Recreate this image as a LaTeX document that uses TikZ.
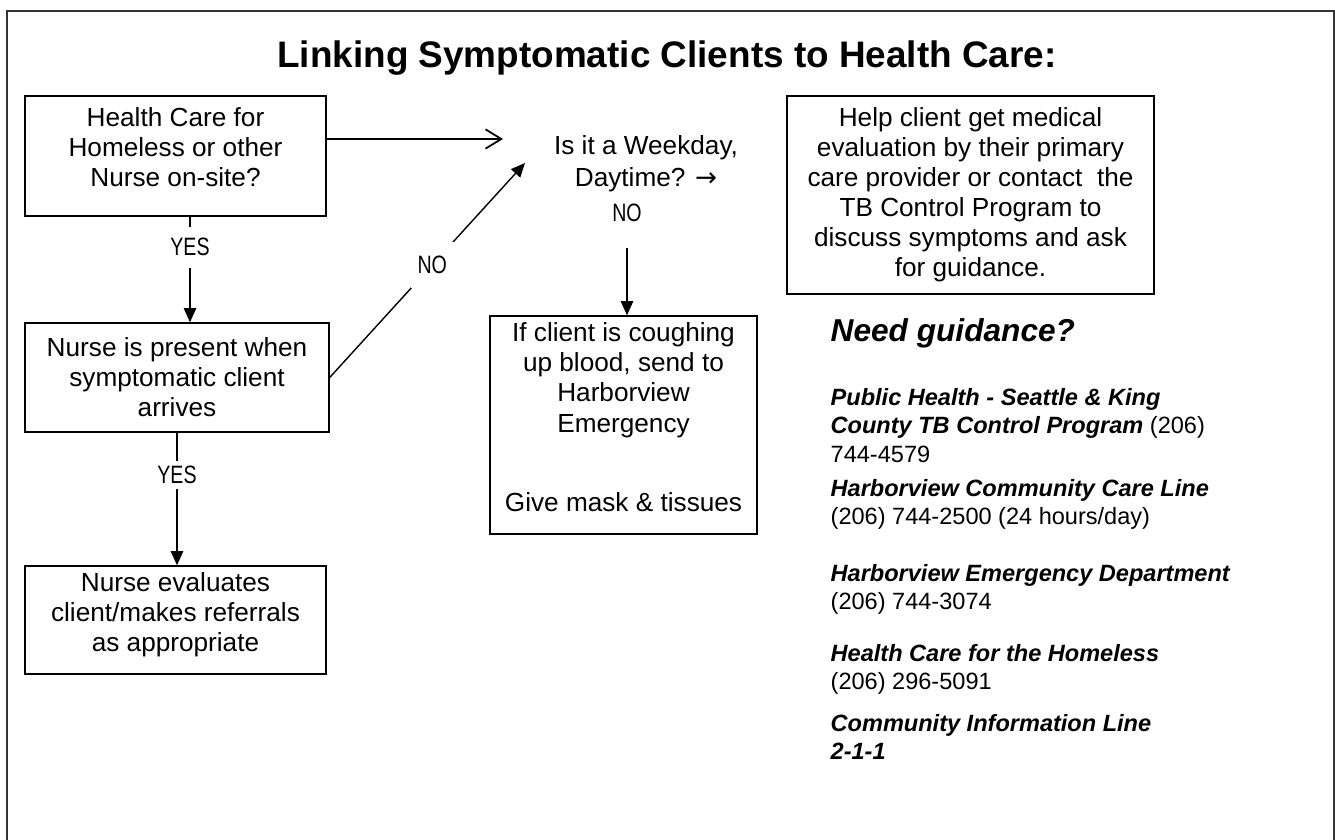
\documentclass[tikz,border=0pt]{standalone}
\usepackage{fontspec}
\setmainfont{Liberation Sans}
\newfontfamily\narrowsf[FakeStretch=0.78]{Liberation Sans}
\newfontfamily\arrowfont{DejaVu Sans}
\usetikzlibrary{arrows.meta}

\begin{document}
\begin{tikzpicture}[line width=0.8pt,
  box/.style={draw, align=center, inner sep=2pt, font=\fontsize{14.9}{17.1}\selectfont},
  yesno/.style={fill=white, inner xsep=3pt, font=\narrowsf\fontsize{14.3}{16}\selectfont},
  entry/.style={anchor=north west, align=left, inner sep=0pt, font=\fontsize{13.4}{16}\selectfont},
  tip/.style={-{Triangle[length=8pt,width=7pt]}}]
  \useasboundingbox (0,0) rectangle (26.7,-16.8);
  \draw[black!80, line width=1.3pt] (0.14,-17) |- (26.68,-0.22) -- (26.68,-17);
  \node[font=\fontsize{21}{25}\selectfont\bfseries] (title) at (13.34,-1.16) {Linking Symptomatic Clients to Health Care:};
  \node[box, minimum width=6.02cm, minimum height=2.40cm, text depth=10pt] (onsite) at (3.51,-3.12) {Health Care for\\ Homeless or other\\ Nurse on-site?};
  \node[box, minimum width=6.08cm, minimum height=2.18cm] (present) at (3.54,-7.55) {Nurse is present when\\ symptomatic client\\ arrives};
  \node[box, minimum width=6.02cm, minimum height=2.16cm, text depth=8.7pt] (evaluate) at (3.51,-12.40) {Nurse evaluates\\ client/makes referrals\\ as appropriate};
  \node[box, minimum width=5.34cm, minimum height=4.36cm, text depth=9pt] (blood) at (12.47,-8.50) {If client is coughing\\ up blood, send to\\ Harborview\\ Emergency\\[28pt] Give mask \& tissues};
  \node[box, minimum width=7.34cm, minimum height=3.96cm] (primary) at (19.41,-3.90) {Help client get medical\\ evaluation by their primary\\ care provider or contact\ \ the\\ TB Control Program to\\ discuss symptoms and ask\\ for guidance.};
  \node[align=center, font=\fontsize{14.9}{18.2}\selectfont] (weekday) at (12.92,-3.28) {Is it a Weekday,\\ Daytime? {\arrowfont →}};
  \node[yesno, fill=none, inner sep=0pt] (wkno) at (12.54,-4.26) {NO};
  \coordinate (wkin) at (10.06,-2.78);
  \coordinate (wkup) at (10.50,-3.26);
  \draw[-{Straight Barb[length=9pt,width=11pt]}, line width=1pt] (onsite.east |- wkin) -- (wkin);
  \draw[tip] ([xshift=0.29cm]onsite.south) -- node[yesno, pos=0.29, inner ysep=6.5pt] {YES} ([xshift=0.29cm]onsite.south |- present.north);
  \draw[tip] (present.south) -- node[yesno, pos=0.32, inner ysep=3pt] {YES} (present.south |- evaluate.north);
  \draw[tip] (present.east) -- node[yesno, pos=0.525, inner xsep=4pt, inner ysep=8pt] {NO} (wkup);
  \draw[tip, shorten <=0.5cm] (wkno.south) -- (wkno.south |- blood.north);
  \node[anchor=west, inner sep=0pt, font=\fontsize{18}{21}\selectfont\bfseries\itshape] (guide) at (16.60,-6.66) {Need guidance?};
  \node[entry] (tbprog) at (16.60,-7.76) {\textbf{\textit{Public Health - Seattle \& King}}\\ \textbf{\textit{County TB Control Program}} (206)\\ 744-4579};
  \node[entry] (careline) at (16.60,-9.58) {\textbf{\textit{Harborview Community Care Line}}\\ (206) 744-2500 (24 hours/day)};
  \node[entry] (emerg) at (16.60,-11.28) {\textbf{\textit{Harborview Emergency Department}}\\ (206) 744-3074};
  \node[entry] (homeless) at (16.60,-12.88) {\textbf{\textit{Health Care for the Homeless}}\\ (206) 296-5091};
  \node[entry] (infoline) at (16.60,-14.28) {\textbf{\textit{Community Information Line}}\\ \textbf{\textit{2-1-1}}};
\end{tikzpicture}
\end{document}
